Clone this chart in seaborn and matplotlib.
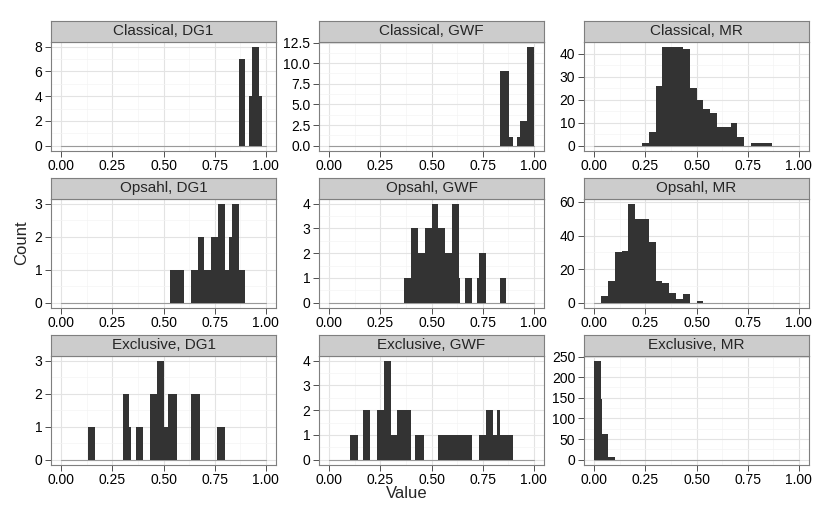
import numpy as np
import pandas as pd
import matplotlib
matplotlib.use("Agg")
import matplotlib.pyplot as plt
from matplotlib.ticker import MultipleLocator, AutoMinorLocator
import seaborn as sns

# facet labels
methods = ["Classical", "Opsahl", "Exclusive"]
measures = ["DG1", "GWF", "MR"]

# ggplot's 30 common bins over [0, 1]
bins30 = list(np.linspace(0, 1, 31))

# bar edges / counts (zero bins fill the gaps)
classical_dg1_edges = [0, 0.867, 0.900, 0.918, 0.933, 0.967, 0.982, 1.0]
classical_dg1_counts = [0, 7, 0, 4, 8, 4, 0]

classical_gwf_edges = [0, 0.833, 0.878, 0.898, 0.919, 0.933, 0.967, 1.0]
classical_gwf_counts = [0, 9, 1, 0, 1, 3, 12]

classical_mr_edges = bins30
classical_mr_counts = [0, 0, 0, 0, 0, 0, 0, 1, 6, 26, 43, 43, 43, 42, 25,
                       20, 16, 14, 8, 8, 10, 4, 0, 1, 1, 1, 0, 0, 0, 0]

opsahl_dg1_edges = [0, 0.533, 0.600, 0.633, 0.667, 0.700, 0.733, 0.767,
                    0.800, 0.821, 0.837, 0.867, 0.900, 1.0]
opsahl_dg1_counts = [0, 1, 0, 1, 2, 1, 2, 3, 1, 2, 3, 1, 0]

opsahl_gwf_edges = [0, 0.367, 0.400, 0.433, 0.467, 0.500, 0.533, 0.567,
                    0.600, 0.633, 0.640, 0.662, 0.696, 0.720, 0.733, 0.765,
                    0.833, 0.865, 1.0]
opsahl_gwf_counts = [0, 1, 3, 2, 3, 4, 3, 2, 4, 1, 0, 1, 0, 1, 2, 0, 1, 0]

opsahl_mr_edges = bins30
opsahl_mr_counts = [0, 4, 13, 30, 31, 59, 50, 50, 36, 13, 12, 6, 2, 5, 0,
                    1, 0, 0, 0, 0, 0, 0, 0, 0, 0, 0, 0, 0, 0, 0]

exclusive_dg1_edges = [0, 0.133, 0.167, 0.300, 0.333, 0.339, 0.367, 0.400,
                       0.433, 0.467, 0.500, 0.520, 0.567, 0.633, 0.680,
                       0.762, 0.800, 1.0]
exclusive_dg1_counts = [0, 1, 0, 2, 1, 0, 1, 0, 2, 3, 1, 2, 0, 2, 0, 1, 0]

exclusive_gwf_edges = [0, 0.100, 0.140, 0.167, 0.200, 0.233, 0.267, 0.300,
                       0.333, 0.367, 0.400, 0.420, 0.465, 0.533, 0.700,
                       0.733, 0.767, 0.800, 0.818, 0.833, 0.900, 1.0]
exclusive_gwf_counts = [0, 1, 0, 2, 0, 2, 4, 1, 2, 2, 0, 1, 0, 1, 0, 1, 2,
                        1, 2, 1, 0]

exclusive_mr_edges = [0, 0.033, 0.039, 0.067, 0.100, 1.0]
exclusive_mr_counts = [240, 148, 62, 7, 0]

panels = [
    (classical_dg1_edges, classical_dg1_counts),
    (classical_gwf_edges, classical_gwf_counts),
    (classical_mr_edges, classical_mr_counts),
    (opsahl_dg1_edges, opsahl_dg1_counts),
    (opsahl_gwf_edges, opsahl_gwf_counts),
    (opsahl_mr_edges, opsahl_mr_counts),
    (exclusive_dg1_edges, exclusive_dg1_counts),
    (exclusive_gwf_edges, exclusive_gwf_counts),
    (exclusive_mr_edges, exclusive_mr_counts),
]

x_ticks = [0, 0.25, 0.5, 0.75, 1.0]
# y break spacing per panel (free y scales)
y_steps = [2, 2.5, 10, 1, 1, 20, 1, 1, 50]

sns.set_style("white")
plt.rcParams["font.family"] = ["Liberation Sans", "DejaVu Sans"]

W, H = 830, 519
fig = plt.figure(figsize=(W / 100, H / 100), dpi=100)

col_left = [51, 319, 584]
row_top = [41.7, 198.7, 355.7]
PW, PH, SH = 225, 109, 21

for i, (edges, counts) in enumerate(panels):
    r, c = divmod(i, 3)
    left, top = col_left[c], row_top[r]
    ax = fig.add_axes([left / W, 1 - (top + PH) / H, PW / W, PH / H])
    e = np.asarray(edges, dtype=float)
    df = pd.DataFrame({"value": (e[:-1] + e[1:]) / 2, "count": counts})

    sns.histplot(data=df, x="value", weights="count", bins=[float(v) for v in e],
                 ax=ax, color="#333333", alpha=1, linewidth=0, zorder=2)
    # zero-count bins show up as a flat line in ggplot
    ax.plot([e[0], e[-1]], [0, 0], color="#9a9a9a", lw=0.8, zorder=1.5)

    ymax = max(counts)
    ax.set_xlim(-0.05, 1.05)
    ax.set_ylim(-0.05 * ymax, 1.05 * ymax)
    ax.set_xticks(x_ticks)
    ax.set_xticklabels([f"{t:.2f}" for t in x_ticks])
    ax.yaxis.set_major_locator(MultipleLocator(y_steps[i]))
    ax.xaxis.set_minor_locator(AutoMinorLocator(2))
    ax.yaxis.set_minor_locator(AutoMinorLocator(2))
    ax.set_axisbelow(True)
    ax.grid(which="major", color="#e3e3e3", lw=0.8, zorder=0)
    ax.grid(which="minor", color="#f4f4f4", lw=0.5, zorder=0)
    ax.tick_params(which="major", direction="out", length=4.3, width=0.6,
                   color="#333333", labelsize=10, pad=2, labelcolor="black",
                   bottom=True, left=True)
    ax.tick_params(which="minor", length=0)
    for sp in ax.spines.values():
        sp.set_color("#7f7f7f")
        sp.set_linewidth(0.8)
    ax.set_xlabel("")
    ax.set_ylabel("")

    # facet strip
    sax = fig.add_axes([left / W, 1 - top / H, PW / W, SH / H])
    sax.set_facecolor("#cccccc")
    sax.set_xticks([])
    sax.set_yticks([])
    for sp in sax.spines.values():
        sp.set_color("#7f7f7f")
        sp.set_linewidth(0.8)
    sax.text(0.5, 0.5, f"{methods[r]}, {measures[c]}", ha="center",
             va="center", fontsize=11, transform=sax.transAxes)

fig.text(407 / W, 1 - 494 / H, "Value", ha="center", va="center", fontsize=12)
fig.text(22 / W, 1 - 243 / H, "Count", ha="center", va="center",
         fontsize=12, rotation=90)

fig.savefig("out.png", dpi=100, facecolor="white")
